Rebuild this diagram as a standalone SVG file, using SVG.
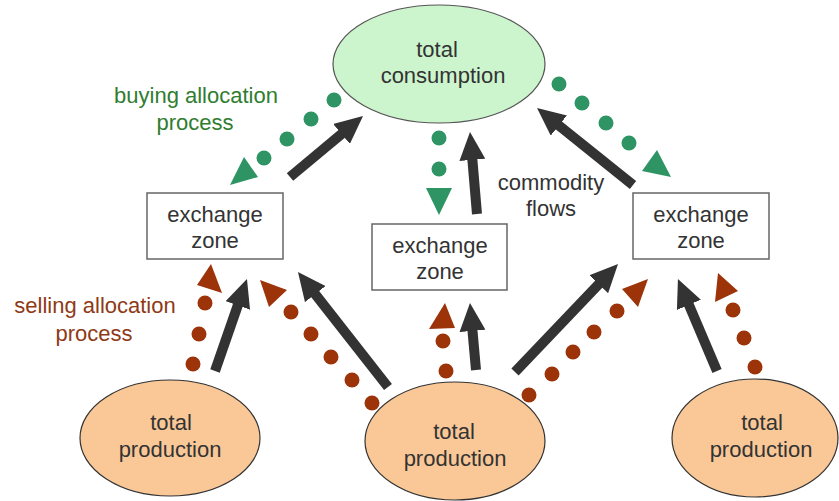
<svg xmlns="http://www.w3.org/2000/svg" width="839" height="501" viewBox="0 0 839 501">
<style>
text{font-family:"Liberation Sans",Arial,sans-serif;font-size:22px;text-anchor:middle;fill:#333}
.cons{fill:#cdf5cd;stroke:#555;stroke-width:1.2}
.prod{fill:#fac897;stroke:#333;stroke-width:1.2}
.box{fill:#fff;stroke:#666;stroke-width:1.5}
.flow{stroke:#333;stroke-width:10;fill:none;marker-end:url(#head)}
.gd{fill:#2e9464}
.bd{fill:#9c3309}
.glab{fill:#2f7d2f}
.blab{fill:#8f3a16}
</style>
<defs>
<marker id="head" markerUnits="userSpaceOnUse" markerWidth="28" markerHeight="26" viewBox="0 0 28 26" refX="1" refY="13" orient="auto">
<path d="M0,0 L28,13 L0,26 Z" fill="#333"/>
</marker>
</defs>
<g id="node-consumption">
<ellipse class="cons" cx="439" cy="64" rx="106" ry="59"/>
<text x="437" y="57">total</text>
<text x="443" y="83">consumption</text>
</g>
<g id="node-exchange-left">
<rect class="box" x="147" y="193" width="136" height="66"/>
<text x="215" y="222">exchange</text>
<text x="215" y="248">zone</text>
</g>
<g id="node-exchange-mid">
<rect class="box" x="372" y="224" width="135" height="66"/>
<text x="440" y="253">exchange</text>
<text x="440" y="279">zone</text>
</g>
<g id="node-exchange-right">
<rect class="box" x="633" y="193" width="136" height="66"/>
<text x="701" y="222">exchange</text>
<text x="701" y="248">zone</text>
</g>
<g id="node-production-left">
<ellipse class="prod" cx="170" cy="438" rx="90" ry="58"/>
<text x="171" y="430">total</text>
<text x="170" y="457">production</text>
</g>
<g id="node-production-mid">
<ellipse class="prod" cx="455" cy="441" rx="90" ry="59"/>
<text x="454" y="439">total</text>
<text x="455" y="466">production</text>
</g>
<g id="node-production-right">
<ellipse class="prod" cx="755" cy="438" rx="83" ry="59"/>
<text x="762" y="430">total</text>
<text x="761" y="457">production</text>
</g>
<g id="connectors">
<line class="flow" x1="290" y1="177" x2="342.3" y2="133.3"/>
<line class="flow" x1="477" y1="214" x2="472.3" y2="158.9"/>
<line class="flow" x1="633" y1="185" x2="558.1" y2="124.9"/>
<line class="flow" x1="215" y1="371" x2="238.1" y2="304.5"/>
<line class="flow" x1="388" y1="387" x2="314.6" y2="293.3"/>
<line class="flow" x1="476" y1="370" x2="472.4" y2="329.9"/>
<line class="flow" x1="515" y1="372" x2="599.4" y2="283.5"/>
<line class="flow" x1="717" y1="371" x2="688.5" y2="303.9"/>
<g id="buying-left">
<circle class="gd" cx="334" cy="100" r="7.5"/>
<circle class="gd" cx="311" cy="119" r="7.5"/>
<circle class="gd" cx="287" cy="139" r="7.5"/>
<circle class="gd" cx="264" cy="158" r="7.5"/>
<polygon class="gd" points="230,185 244,157 258,177"/>
</g>
<g id="buying-mid">
<circle class="gd" cx="439" cy="138" r="7.5"/>
<circle class="gd" cx="439" cy="169" r="7.5"/>
<polygon class="gd" points="426,188 452,188 439,215"/>
</g>
<g id="buying-right">
<circle class="gd" cx="559" cy="84" r="7.5"/>
<circle class="gd" cx="582" cy="103" r="7.5"/>
<circle class="gd" cx="606" cy="123" r="7.5"/>
<circle class="gd" cx="629" cy="143" r="7.5"/>
<polygon class="gd" points="642,171 657,150 671,177"/>
</g>
<g id="selling-left-left">
<circle class="bd" cx="193" cy="364" r="7.5"/>
<circle class="bd" cx="199" cy="334" r="7.5"/>
<circle class="bd" cx="205" cy="303" r="7.5"/>
<polygon class="bd" points="197,285 211,264 222,293"/>
</g>
<g id="selling-mid-left">
<circle class="bd" cx="372" cy="403" r="7.5"/>
<circle class="bd" cx="352" cy="380" r="7.5"/>
<circle class="bd" cx="331" cy="357" r="7.5"/>
<circle class="bd" cx="311" cy="334" r="7.5"/>
<circle class="bd" cx="291" cy="312" r="7.5"/>
<polygon class="bd" points="260,280 287,290 269,307"/>
</g>
<g id="selling-mid-mid">
<circle class="bd" cx="446" cy="371" r="7.5"/>
<circle class="bd" cx="443" cy="341" r="7.5"/>
<polygon class="bd" points="429,329 445,303 455,328"/>
</g>
<g id="selling-mid-right">
<circle class="bd" cx="529" cy="395" r="7.5"/>
<circle class="bd" cx="552" cy="374" r="7.5"/>
<circle class="bd" cx="573" cy="352" r="7.5"/>
<circle class="bd" cx="594" cy="332" r="7.5"/>
<circle class="bd" cx="617" cy="311" r="7.5"/>
<polygon class="bd" points="622,289 648,279 638,307"/>
</g>
<g id="selling-right-right">
<circle class="bd" cx="755" cy="367" r="7.5"/>
<circle class="bd" cx="744" cy="338" r="7.5"/>
<circle class="bd" cx="733" cy="310" r="7.5"/>
<polygon class="bd" points="715,302 718,273 738,291"/>
</g>
</g>
<g id="labels">
<text class="glab" x="196" y="103">buying allocation</text>
<text class="glab" x="195" y="130">process</text>
<text class="blab" x="95" y="313">selling allocation</text>
<text class="blab" x="94" y="341">process</text>
<text x="551" y="190">commodity</text>
<text x="551" y="216">flows</text>
</g>
</svg>
